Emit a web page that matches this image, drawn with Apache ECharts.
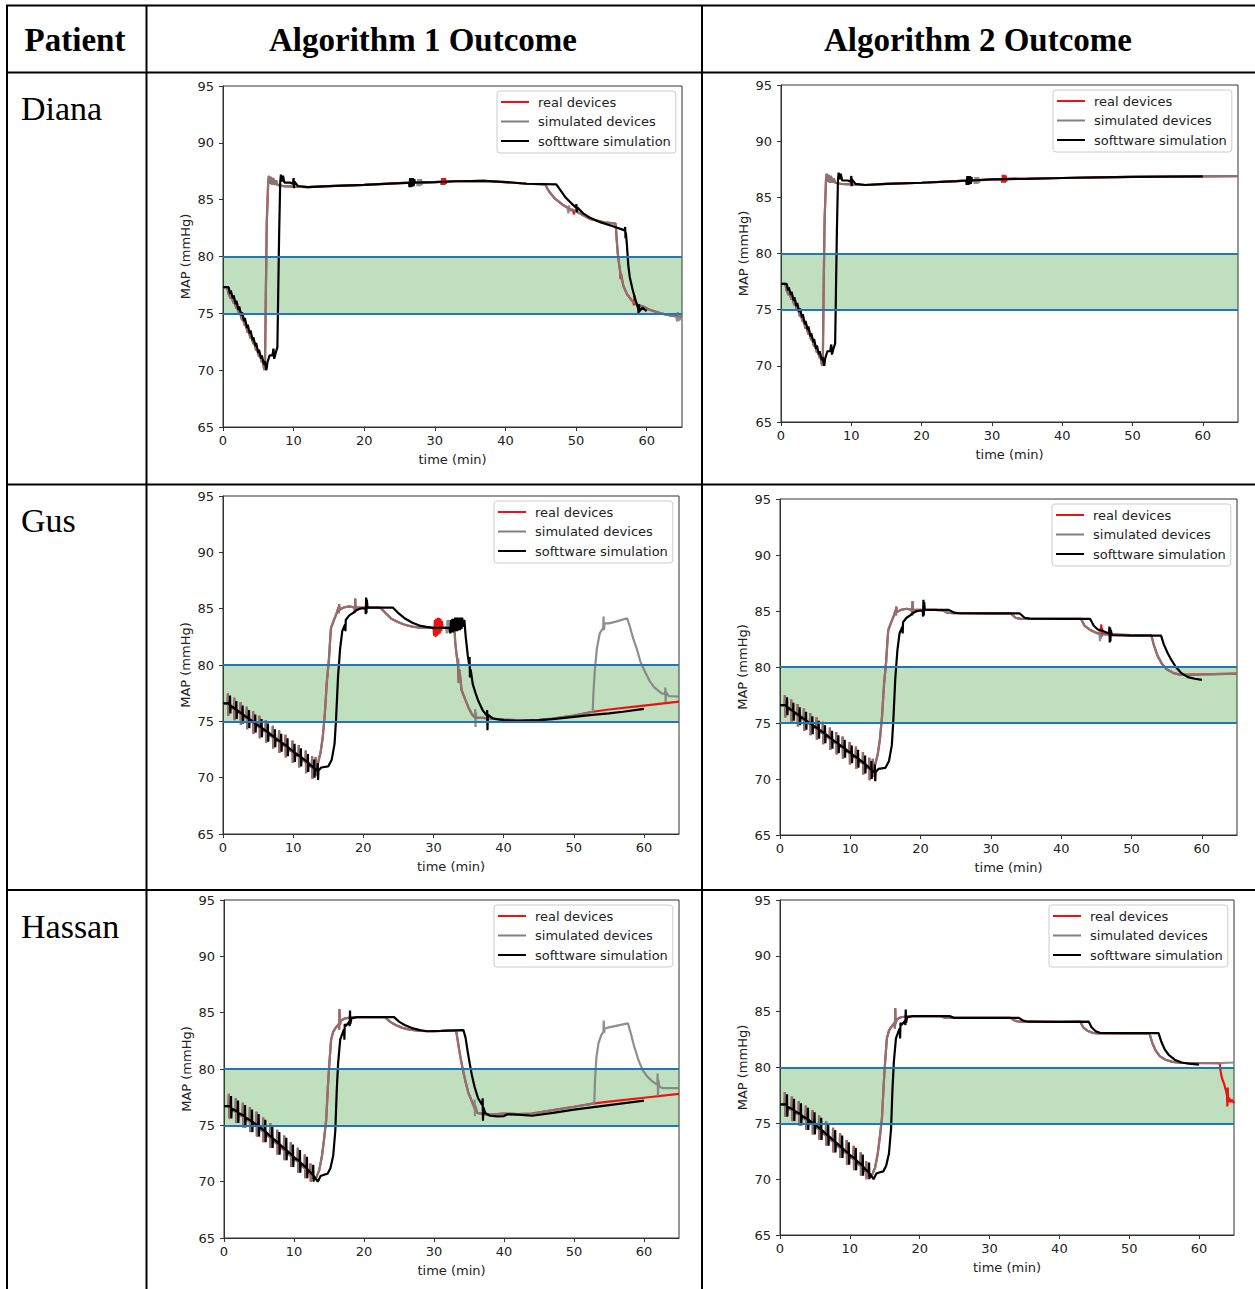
<!DOCTYPE html>
<html>
<head>
<meta charset="utf-8">
<script src="https://cdn.jsdelivr.net/npm/echarts@6/dist/echarts.min.js"></script>
<style>
html,body{margin:0;padding:0;background:#fff;}
#main{width:1255px;height:1289px;}
</style>
</head>
<body>
<div id="main"></div>
<script>
// ---------------- text ----------------
const headerLabels = ['Patient', 'Algorithm 1 Outcome', 'Algorithm 2 Outcome'];
const patients = ['Diana', 'Gus', 'Hassan'];
const seriesNames = ['real devices', 'simulated devices', 'softtware simulation'];
const xTicks = [0, 10, 20, 30, 40, 50, 60];
const yTicks = [65, 70, 75, 80, 85, 90, 95];
const xRange = [0, 65];
const yRange = [65, 95];
const targetBand = [75, 80];
const xTitle = 'time (min)';
const yTitle = 'MAP (mmHg)';

// ---------------- data: Diana ----------------
const dianaStartSW = [[0,77.3],[0.8,77.3],[1.0,76.7],[1.1,77.0],[1.4,76.3],[1.5,76.6],[1.8,75.8],[1.9,76.1],[2.2,75.3],[2.3,75.6],[2.6,74.8],[2.7,75.1],[3.0,74.3],[3.1,74.6],[3.4,73.7],[3.5,74.0],[3.8,73.2],[3.9,73.5],[4.2,72.6],[4.3,72.9],[4.6,72.1],[4.7,72.4],[5.0,71.5],[5.1,71.8],[5.4,71.0],[5.5,71.3],[5.8,70.5],[5.9,70.8],[6.15,70.0],[6.3,70.7],[6.6,71.3],[7.0,71.3],[7.15,71.9],[7.25,71.0],[7.45,71.5],[7.7,72.0],[7.8,76],[7.95,82],[8.1,86.5],[8.2,87.2],[8.35,86.6],[8.5,87.1],[8.7,86.5],[9.5,86.5],[9.9,86.4],[10.0,86.9],[10.05,86.0],[10.1,86.6],[10.6,86.2],[12,86.1]];
const dianaStartSim = [[0,77.3],[0.6,77.3],[0.8,76.7],[1.1,76.3],[1.2,76.5],[1.5,75.9],[1.6,76.1],[1.9,75.4],[2.0,75.6],[2.3,74.9],[2.4,75.1],[2.7,74.4],[2.8,74.6],[3.1,73.9],[3.2,74.1],[3.5,73.3],[3.6,73.5],[3.9,72.8],[4.0,73.0],[4.3,72.3],[4.4,72.5],[4.7,71.7],[4.8,71.9],[5.1,71.2],[5.2,71.4],[5.5,70.7],[5.6,70.9],[5.85,70.0],[5.95,70.5],[6.05,76],[6.2,83],[6.4,86.5],[6.5,87.1],[6.65,86.4],[6.8,87.0],[6.95,86.3],[7.1,86.9],[7.3,86.3],[7.5,86.7],[7.7,86.3],[8.5,86.2],[10,86.15],[12,86.1]];

const dianaA1SWRest = [[15,86.2],[20,86.3],[25,86.45],[26.35,86.5],[26.4,86.1],[26.5,86.9],[26.6,86.1],[26.7,86.9],[26.8,86.15],[26.9,86.9],[27.0,86.2],[27.1,86.8],[27.15,86.5],[30,86.55],[33,86.62],[37,86.65],[40,86.55],[43,86.4],[47.2,86.35],[47.7,85.9],[48.5,85.2],[49.3,84.7],[50,84.3],[50.05,84.6],[50.1,83.9],[50.2,84.3],[51,83.8],[52,83.4],[53.5,83.0],[55,82.7],[56.9,82.3],[56.95,82.6],[57.0,81.6],[57.05,82.1],[57.2,81.0],[57.4,79.2],[57.6,78.2],[58,77.1],[58.4,76.2],[58.8,75.4],[58.85,75.0],[58.9,75.8],[59.0,75.2],[59.4,75.5],[60,75.2]];
const dianaA1SimRest = [[15,86.2],[20,86.3],[25,86.45],[27.5,86.5],[27.55,86.2],[27.65,86.8],[27.75,86.2],[27.85,86.8],[27.95,86.2],[28.05,86.8],[28.15,86.3],[28.2,86.5],[30,86.55],[33,86.62],[37,86.65],[40,86.55],[43,86.4],[45.6,86.35],[46.2,85.7],[47,85.1],[48,84.6],[48.8,84.3],[48.9,83.8],[49.0,84.5],[49.1,84.0],[49.3,84.2],[50.5,83.8],[52,83.3],[54,83.0],[55.6,82.9],[55.75,81.5],[55.9,80.3],[56.1,79.3],[56.4,78.2],[56.7,77.4],[57.2,76.7],[57.8,76.2],[58.5,75.8],[59.5,75.6],[60.5,75.3],[62,75.0],[63.5,74.8],[64.2,74.7],[64.3,74.3],[64.4,75.1],[64.5,74.3],[64.6,75.0],[64.7,74.4],[64.8,74.9],[65,74.7]];
const dianaA1RealRest = [[15,86.2],[20,86.3],[25,86.45],[30,86.55],[30.9,86.58],[30.95,86.3],[31.05,86.9],[31.15,86.3],[31.25,86.9],[31.35,86.3],[31.45,86.9],[31.55,86.4],[31.6,86.6],[33,86.62],[37,86.65],[40,86.55],[43,86.4],[45.6,86.35],[46.2,85.7],[47,85.1],[48,84.6],[49,84.2],[49.6,84.0],[49.7,83.7],[49.8,84.1],[50.5,83.8],[52,83.3],[54,83.0],[55.6,82.9],[55.75,81.5],[55.9,80.3],[56.1,79.3],[56.25,78.6],[56.3,78.0],[56.35,78.5],[56.7,77.4],[57.2,76.7],[57.8,76.2],[58.1,76.0],[58.2,75.7],[58.25,76.6],[58.3,75.9],[58.5,75.8],[59.5,75.6],[60.5,75.3],[62,75.0],[63.5,74.8],[65,74.7]];

const dianaA2SWRest = [[15,86.2],[20,86.3],[25,86.45],[26.35,86.5],[26.4,86.1],[26.5,86.9],[26.6,86.1],[26.7,86.9],[26.8,86.15],[26.9,86.9],[27.0,86.2],[27.1,86.8],[27.15,86.5],[30,86.6],[35,86.65],[40,86.72],[45,86.78],[50,86.82],[55,86.85],[60,86.87]];
const dianaA2SimRest = [[15,86.2],[20,86.3],[25,86.45],[27.5,86.5],[27.55,86.2],[27.65,86.8],[27.75,86.2],[27.85,86.8],[27.95,86.2],[28.05,86.8],[28.15,86.3],[28.2,86.5],[30,86.6],[35,86.65],[40,86.72],[45,86.78],[50,86.82],[55,86.85],[60,86.87],[65,86.88]];
const dianaA2RealRest = [[15,86.2],[20,86.3],[25,86.45],[30,86.6],[31.4,86.62],[31.45,86.3],[31.55,87.0],[31.65,86.3],[31.75,87.0],[31.85,86.3],[31.95,86.95],[32.05,86.4],[32.1,86.65],[35,86.67],[40,86.72],[45,86.78],[50,86.82],[55,86.85],[60,86.87],[65,86.88]];

// ---------------- data: Gus ----------------
const gusStartSW = [[0,76.6],[0.8,76.6],[0.95,76.45],[1.0,77.3],[1.05,75.7],[1.1,76.4],[1.85,76.05],[1.9,76.8],[1.95,75.2],[2.0,76.0],[2.75,75.65],[2.8,76.4],[2.85,74.8],[2.9,75.6],[3.65,75.25],[3.7,76.0],[3.75,74.4],[3.8,75.2],[4.55,74.85],[4.6,75.6],[4.65,74.0],[4.7,74.8],[5.45,74.45],[5.5,75.2],[5.55,73.6],[5.6,74.4],[6.35,74.05],[6.4,74.8],[6.45,73.2],[6.5,74.0],[7.35,73.55],[7.4,74.3],[7.45,72.7],[7.5,73.5],[8.25,73.15],[8.3,73.9],[8.35,72.3],[8.4,73.1],[9.15,72.75],[9.2,73.5],[9.25,71.9],[9.3,72.7],[10.15,72.25],[10.2,73.0],[10.25,71.4],[10.3,72.2],[11.05,71.85],[11.1,72.6],[11.15,71.0],[11.2,71.8],[12.05,71.35],[12.1,72.1],[12.15,70.5],[12.2,71.3],[12.95,70.85],[13.0,71.6],[13.05,70.0],[13.1,70.8],[13.45,70.6],[13.5,71.3],[13.55,69.8],[13.6,70.6],[14.0,70.9],[15.0,71.0],[15.5,71.6],[15.9,73.0],[16.1,75.0],[16.4,79.0],[16.7,81.5],[17.0,83.0],[17.4,83.6],[17.45,83.0],[17.5,84.0],[18.0,84.4],[18.5,84.6],[19.0,84.85],[19.5,85.0],[20.3,85.05],[20.35,84.5],[20.4,86.0],[20.45,84.6],[20.5,85.8],[20.6,85.1],[22,85.1]];
const gusStartSim = [[0,76.6],[0.5,76.6],[0.65,76.5],[0.7,77.5],[0.75,75.5],[0.8,76.4],[1.55,76.1],[1.6,77.1],[1.65,75.1],[1.7,76.0],[2.45,75.7],[2.5,76.7],[2.55,74.7],[2.6,75.6],[3.35,75.3],[3.4,76.3],[3.45,74.3],[3.5,75.2],[4.25,74.9],[4.3,75.9],[4.35,73.9],[4.4,74.8],[5.15,74.5],[5.2,75.5],[5.25,73.5],[5.3,74.4],[6.05,74.1],[6.1,75.1],[6.15,73.1],[6.2,74.0],[7.05,73.6],[7.1,74.6],[7.15,72.6],[7.2,73.5],[7.95,73.2],[8.0,74.2],[8.05,72.2],[8.1,73.1],[8.85,72.8],[8.9,73.8],[8.95,71.8],[9.0,72.7],[9.85,72.3],[9.9,73.3],[9.95,71.3],[10.0,72.2],[10.75,71.9],[10.8,72.9],[10.85,70.9],[10.9,71.8],[11.75,71.4],[11.8,72.4],[11.85,70.4],[11.9,71.3],[12.65,70.9],[12.7,71.9],[12.75,69.9],[12.8,70.7],[13.1,70.4],[13.2,71.8],[13.3,70.2],[13.5,71.2],[13.9,72.2],[14.2,73.5],[14.5,75.5],[14.8,78.5],[15.1,80.5],[15.3,82.5],[15.4,83.3],[15.7,83.8],[16.2,84.6],[16.45,85.1],[16.5,84.6],[16.55,85.4],[16.6,84.9],[17.2,85.1],[18.0,85.2],[18.75,85.1],[18.8,84.6],[18.85,85.9],[18.9,84.8],[19.0,85.1],[22,85.1]];

const gusA1SWRest = [[24.2,85.1],[25,84.6],[26,84.1],[27,83.75],[28,83.5],[29,83.38],[30,83.3],[32.3,83.3],[32.4,82.8],[32.5,84.0],[32.6,82.9],[32.7,84.1],[32.8,82.9],[32.9,84.1],[33.0,83.0],[33.1,84.2],[33.2,83.0],[33.3,84.2],[33.4,83.0],[33.5,84.2],[33.6,83.1],[33.7,84.2],[33.8,83.1],[33.9,84.2],[34.0,83.2],[34.1,84.2],[34.2,83.4],[34.4,84.0],[34.6,82.5],[34.9,80.8],[35.1,80.0],[35.15,80.7],[35.2,78.9],[35.3,79.6],[35.6,78.3],[36.0,77.5],[36.4,76.8],[37.0,76.0],[37.6,75.5],[37.65,76.0],[37.7,74.2],[37.75,75.6],[38.5,75.25],[40,75.1],[42,75.05],[45,75.1],[47,75.2],[50,75.4],[53,75.6],[55,75.7],[57,75.85],[60,76.1]];
const gusA1SimRest = [[22.4,85.1],[23.2,84.6],[24,84.1],[25,83.8],[26,83.55],[27,83.4],[28,83.32],[30,83.3],[31.8,83.3],[31.9,82.8],[32.0,84.0],[32.1,82.9],[32.2,84.0],[32.3,82.9],[32.4,83.9],[32.5,83.3],[33.0,83.3],[33.1,82.0],[33.3,80.9],[33.5,80.0],[33.55,80.6],[33.6,78.4],[33.7,79.6],[34.0,77.8],[34.5,77.0],[35.0,76.2],[35.5,75.6],[35.9,75.4],[35.95,76.1],[36.0,74.5],[36.05,75.8],[36.1,75.3],[37,75.3],[40,75.15],[42,75.1],[45,75.1],[47,75.25],[50,75.5],[52.7,75.85],[52.8,77.5],[53.0,79.5],[53.3,81.5],[53.7,82.8],[54.2,83.3],[54.25,84.3],[54.3,83.1],[54.4,83.7],[55,83.7],[56,83.85],[57.6,84.15],[58.0,83.4],[58.5,82.3],[59,81.4],[59.5,80.3],[60,79.6],[60.8,78.6],[61.5,78.0],[62.5,77.5],[63.0,77.4],[63.05,78.0],[63.1,76.7],[63.15,77.6],[63.5,77.25],[65,77.2]];
const gusA1RealRest = [[22.4,85.1],[23.2,84.6],[24,84.1],[25,83.8],[26,83.55],[27,83.4],[28,83.32],[30,83.3],[30.1,82.6],[30.2,84.0],[30.3,82.5],[30.4,84.1],[30.5,82.6],[30.6,84.2],[30.7,82.7],[30.8,84.2],[30.9,82.8],[31.0,84.1],[31.1,83.0],[31.2,83.9],[31.3,83.3],[33.0,83.3],[33.1,82.0],[33.3,80.9],[33.5,80.0],[33.6,78.4],[33.7,79.6],[34.0,77.8],[34.5,77.0],[35.0,76.2],[35.5,75.6],[36,75.3],[37,75.3],[40,75.15],[42,75.1],[45,75.1],[47,75.25],[50,75.5],[52.7,75.85],[55,76.05],[60,76.4],[65,76.75]];

const gusA2SWRest = [[24.0,85.1],[24.8,84.85],[25.5,84.8],[30,84.78],[34.1,84.78],[34.8,84.4],[35.5,84.32],[40,84.3],[44.1,84.3],[44.6,83.7],[45.2,83.35],[46,83.2],[46.8,83.0],[46.85,83.6],[46.9,82.2],[46.95,83.5],[47.0,82.3],[47.05,83.3],[47.2,82.85],[50,82.8],[54.2,82.8],[54.6,82.0],[55.1,81.3],[55.6,80.7],[56.3,80.0],[57,79.5],[58,79.1],[59,78.95],[60,78.85]];
const gusA2SimRest = [[23.2,85.05],[23.8,84.85],[24.5,84.8],[30,84.78],[32.8,84.78],[33.5,84.4],[34.2,84.3],[40,84.3],[42.8,84.3],[43.3,83.7],[44,83.35],[44.8,83.1],[45.4,82.9],[45.45,83.4],[45.5,82.3],[45.55,83.3],[45.6,82.5],[45.7,82.9],[50,82.85],[52.8,82.85],[53.2,81.9],[53.7,81.0],[54.3,80.3],[55,79.8],[56,79.45],[57,79.3],[60,79.35],[65,79.4]];
const gusA2RealRest = [[23.2,85.05],[23.8,84.85],[24.5,84.8],[30,84.78],[32.8,84.78],[33.5,84.4],[34.2,84.3],[40,84.3],[42.8,84.3],[43.3,83.7],[44,83.35],[44.8,83.1],[45.6,82.95],[45.7,83.8],[45.75,82.7],[45.8,83.5],[45.9,82.95],[50,82.85],[52.8,82.85],[53.2,81.9],[53.7,81.0],[54.3,80.3],[55,79.8],[56,79.45],[57,79.3],[60,79.35],[65,79.4]];

// ---------------- data: Hassan ----------------
const hassanStartSW = [[0,76.7],[0.8,76.7],[0.95,76.6],[1.0,77.6],[1.05,75.6],[1.1,76.5],[1.95,76.2],[2.0,77.2],[2.05,75.2],[2.1,76.1],[2.95,75.8],[3.0,76.8],[3.05,74.8],[3.1,75.7],[3.95,75.35],[4.0,76.4],[4.05,74.4],[4.1,75.3],[4.9,74.95],[4.95,76.0],[5.0,74.0],[5.05,74.9],[5.85,74.45],[5.9,75.5],[5.95,73.5],[6.0,74.4],[6.85,73.9],[6.9,75.0],[6.95,73.0],[7.0,73.85],[7.85,73.35],[7.9,74.4],[7.95,72.4],[8.0,73.3],[8.85,72.8],[8.9,73.9],[8.95,71.9],[9.0,72.75],[9.8,72.3],[9.85,73.3],[9.9,71.3],[9.95,72.2],[10.8,71.8],[10.85,72.8],[10.9,70.8],[10.95,71.7],[11.8,71.2],[11.85,72.2],[11.9,70.3],[11.95,71.1],[12.7,70.6],[12.75,71.5],[12.8,70.0],[12.85,70.5],[13.4,70.0],[13.8,70.5],[14.2,70.6],[14.8,70.7],[15.2,71.2],[15.6,72.3],[15.9,74.5],[16.1,78.0],[16.3,80.5],[16.6,82.6],[17.0,83.3],[17.15,83.5],[17.2,82.6],[17.25,84.0],[17.4,83.8],[17.9,84.2],[17.95,83.8],[18.0,85.2],[18.05,84.0],[18.2,84.5],[19,84.6]];
const hassanStartSim = [[0,76.7],[0.5,76.7],[0.65,76.6],[0.7,77.8],[0.75,75.6],[0.8,76.5],[1.65,76.2],[1.7,77.4],[1.75,75.2],[1.8,76.1],[2.65,75.8],[2.7,77.0],[2.75,74.8],[2.8,75.7],[3.65,75.35],[3.7,76.6],[3.75,74.4],[3.8,75.3],[4.6,74.95],[4.65,76.2],[4.7,74.0],[4.75,74.9],[5.55,74.45],[5.6,75.7],[5.65,73.5],[5.7,74.4],[6.55,73.9],[6.6,75.2],[6.65,73.0],[6.7,73.85],[7.55,73.35],[7.6,74.6],[7.65,72.4],[7.7,73.3],[8.55,72.8],[8.6,74.1],[8.65,71.9],[8.7,72.75],[9.5,72.3],[9.55,73.5],[9.6,71.3],[9.65,72.2],[10.5,71.8],[10.55,73.0],[10.6,70.8],[10.65,71.7],[11.5,71.2],[11.55,72.4],[11.6,70.3],[11.65,71.1],[12.3,70.7],[12.35,71.6],[12.4,70.0],[12.45,70.6],[12.9,70.2],[13.2,70.4],[13.6,71.0],[14.0,72.3],[14.3,73.8],[14.6,75.5],[14.85,78.5],[15.05,80.5],[15.3,82.6],[15.6,83.3],[15.9,83.6],[16.4,84.0],[16.45,83.5],[16.5,85.3],[16.55,83.9],[16.7,84.3],[17.3,84.5],[18.5,84.6],[19,84.6]];

const hassanA1SWRest = [[24.3,84.6],[25,84.2],[25.8,83.9],[27,83.6],[28,83.45],[29,83.35],[31,83.38],[33,83.42],[34.2,83.45],[34.5,82.8],[34.8,81.6],[35.1,80.5],[35.4,79.5],[35.8,78.4],[36.3,77.4],[36.9,76.8],[36.95,77.4],[37.0,75.4],[37.05,76.6],[37.3,76.1],[38,75.85],[39,75.8],[40,75.82],[40.5,75.98],[42,75.95],[44,75.85],[47,76.1],[50,76.4],[55,76.8],[60,77.2]];
const hassanA1SimRest = [[23.0,84.6],[23.7,84.2],[24.5,83.9],[25.5,83.65],[26.5,83.5],[28,83.38],[30,83.35],[33.15,83.42],[33.4,82.5],[33.7,81.3],[34.1,80.0],[34.5,78.9],[34.9,77.9],[35.5,77.0],[35.75,76.5],[35.8,77.3],[35.85,75.8],[35.9,76.8],[36.2,76.1],[37,76.0],[38,75.95],[40,76.05],[42,76.0],[44,76.05],[47,76.35],[50,76.65],[52.9,76.95],[53.0,79.0],[53.2,81.0],[53.5,82.3],[53.9,83.0],[54.2,83.3],[54.25,84.3],[54.3,83.2],[54.4,83.6],[55,83.7],[56.5,83.9],[57.7,84.05],[58.1,83.2],[58.6,82.0],[59.2,80.8],[59.8,79.9],[60.5,79.3],[61.2,78.9],[61.9,78.6],[61.95,79.6],[62.0,77.6],[62.05,79.0],[62.2,78.4],[62.8,78.3],[65,78.3]];
const hassanA1RealRest = [[23.0,84.6],[23.7,84.2],[24.5,83.9],[25.5,83.65],[26.5,83.5],[28,83.38],[30,83.35],[33.15,83.42],[33.4,82.5],[33.7,81.3],[34.1,80.0],[34.5,78.9],[34.9,77.9],[35.5,77.0],[36.2,76.1],[37,76.0],[38,75.95],[40,76.05],[42,76.0],[44,76.05],[47,76.35],[50,76.65],[52.9,76.95],[55,77.1],[60,77.45],[65,77.8]];

const hassanA2SWRest = [[24.3,84.6],[24.9,84.45],[30,84.45],[34.2,84.45],[34.8,84.2],[35.5,84.1],[40,84.08],[44.2,84.1],[44.6,83.6],[45.2,83.25],[45.8,83.1],[50,83.08],[54.2,83.08],[54.6,82.3],[55.1,81.6],[55.7,81.1],[56.5,80.7],[57.5,80.45],[58.5,80.35],[60,80.25]];
const hassanA2SimRest = [[23.0,84.6],[23.6,84.45],[30,84.45],[33.0,84.45],[33.6,84.2],[34.2,84.1],[40,84.08],[43.0,84.1],[43.4,83.6],[44,83.3],[44.8,83.1],[45.5,83.05],[50,83.05],[52.9,83.05],[53.3,82.2],[53.8,81.5],[54.4,81.0],[55.2,80.7],[56.2,80.5],[57.5,80.42],[63,80.4],[65,80.45]];
const hassanA2RealRest = [[23.0,84.6],[23.6,84.45],[30,84.45],[33.0,84.45],[33.6,84.2],[34.2,84.1],[40,84.08],[43.0,84.1],[43.4,83.6],[44,83.3],[44.8,83.1],[45.5,83.05],[50,83.05],[52.9,83.05],[53.3,82.2],[53.8,81.5],[54.4,81.0],[55.2,80.7],[56.2,80.5],[57.5,80.42],[62.95,80.4],[63.1,79.6],[63.3,79.0],[63.6,78.5],[63.9,77.8],[64.0,77.5],[64.05,76.5],[64.1,78.2],[64.15,76.9],[64.3,77.3],[64.5,76.9],[64.7,77.1],[65,76.8]];

// panels: [real, simulated, software] per chart, row-major
const panels = [
  [dianaStartSim.concat(dianaA1RealRest), dianaStartSim.concat(dianaA1SimRest), dianaStartSW.concat(dianaA1SWRest)],
  [dianaStartSim.concat(dianaA2RealRest), dianaStartSim.concat(dianaA2SimRest), dianaStartSW.concat(dianaA2SWRest)],
  [gusStartSim.concat(gusA1RealRest), gusStartSim.concat(gusA1SimRest), gusStartSW.concat(gusA1SWRest)],
  [gusStartSim.concat(gusA2RealRest), gusStartSim.concat(gusA2SimRest), gusStartSW.concat(gusA2SWRest)],
  [hassanStartSim.concat(hassanA1RealRest), hassanStartSim.concat(hassanA1SimRest), hassanStartSW.concat(hassanA1SWRest)],
  [hassanStartSim.concat(hassanA2RealRest), hassanStartSim.concat(hassanA2SimRest), hassanStartSW.concat(hassanA2SWRest)]
];

// ---------------- layout & style ----------------
const gridBoxes = [
  {left:223, top:86, width:459, height:341},
  {left:781, top:85, width:457, height:337},
  {left:223, top:496, width:456, height:338},
  {left:780, top:499, width:457, height:336},
  {left:224, top:900, width:455, height:338},
  {left:780, top:900, width:454, height:335}
];
const lineColors = ['#ee1111', '#808080', '#000000'];
const lineOpacity = [1, 0.88, 1];
const lineWidths = [2.2, 2.2, 2.2];
const FONT = 'DejaVu Sans';
const TXT = '#222';

const option = {
  animation: false,
  backgroundColor: '#fff',
  grid: [], xAxis: [], yAxis: [], series: [], legend: [],
  graphic: []
};

gridBoxes.forEach((g, i) => {
  option.grid.push({left:g.left, top:g.top, width:g.width, height:g.height,
    show:true, borderColor:'#333', borderWidth:1, backgroundColor:'transparent', containLabel:false});
  option.xAxis.push({
    type:'value', gridIndex:i, min:xRange[0], max:xRange[1], interval:10,
    name:xTitle, nameLocation:'middle', nameGap:26,
    nameTextStyle:{fontFamily:FONT, fontSize:13, color:TXT},
    axisLine:{show:true, onZero:false, lineStyle:{color:'#333', width:1}},
    axisTick:{show:true, inside:false, length:4, customValues:xTicks, lineStyle:{color:'#333'}},
    axisLabel:{show:true, margin:7, customValues:xTicks, fontFamily:FONT, fontSize:13, color:TXT},
    splitLine:{show:false}
  });
  option.yAxis.push({
    type:'value', gridIndex:i, min:yRange[0], max:yRange[1], interval:5,
    name:yTitle, nameLocation:'middle', nameGap:31,
    nameTextStyle:{fontFamily:FONT, fontSize:13, color:TXT},
    axisLine:{show:true, onZero:false, lineStyle:{color:'#333', width:1}},
    axisTick:{show:true, inside:false, length:4, customValues:yTicks, lineStyle:{color:'#333'}},
    axisLabel:{show:true, margin:9, customValues:yTicks, fontFamily:FONT, fontSize:13, color:TXT},
    splitLine:{show:false}
  });
  // target band and limits
  option.series.push({
    type:'line', name:'target', xAxisIndex:i, yAxisIndex:i, data:[], z:1, silent:true,
    markArea:{silent:true, itemStyle:{color:'rgba(0,128,0,0.25)'},
      data:[[{yAxis:targetBand[0]},{yAxis:targetBand[1]}]]},
    markLine:{silent:true, symbol:['none','none'], label:{show:false},
      lineStyle:{color:'#1f77b4', width:2, type:'solid'},
      data:[{yAxis:targetBand[0]},{yAxis:targetBand[1]}]}
  });
  panels[i].forEach((d, k) => {
    option.series.push({
      type:'line', name:seriesNames[k], xAxisIndex:i, yAxisIndex:i, data:d,
      showSymbol:false, symbol:'none', z:2+k,
      lineStyle:{color:lineColors[k], width:lineWidths[k], opacity:lineOpacity[k]},
      itemStyle:{color:lineColors[k], opacity:1},
      emphasis:{disabled:true}
    });
  });
  option.legend.push({
    orient:'vertical', left:g.left + g.width - 6 - 179, top:g.top + 5,
    data:seriesNames, icon:'rect', itemWidth:28, itemHeight:2, itemGap:4.5,
    padding:[3.5, 5, 4.5, 4],
    backgroundColor:'rgba(255,255,255,0.8)', borderColor:'#ccc', borderWidth:1, borderRadius:3,
    textStyle:{fontFamily:FONT, fontSize:13, color:TXT, lineHeight:15, padding:[0,0,0,4]},
    selectedMode:false
  });
});

// ---------------- table frame and labels ----------------
const tableLines = [
  [6, 5.5, 1255, 5.5], [6, 72.5, 1255, 72.5], [6, 484.5, 1255, 484.5], [6, 890, 1255, 890],
  [7, 5, 7, 1289], [146.5, 5, 146.5, 1289], [702, 5, 702, 1289]
];
tableLines.forEach(l => option.graphic.push({type:'line', silent:true, z:100,
  shape:{x1:l[0], y1:l[1], x2:l[2], y2:l[3]}, style:{stroke:'#000', lineWidth:2}}));
const headerX = [75, 423, 978];
headerLabels.forEach((t, i) => option.graphic.push({type:'text', silent:true, z:100,
  x:headerX[i], y:40, style:{text:t, font:'bold 33px "Liberation Serif"', fill:'#000', align:'center', verticalAlign:'middle'}}));
const nameY = [108, 520, 926];
patients.forEach((t, i) => option.graphic.push({type:'text', silent:true, z:100,
  x:21, y:nameY[i], style:{text:t, font:'34px "Liberation Serif"', fill:'#000', align:'left', verticalAlign:'middle'}}));

const chart = echarts.init(document.getElementById('main'), null, {renderer:'svg', width:1255, height:1289});
chart.setOption(option);
</script>
</body>
</html>
